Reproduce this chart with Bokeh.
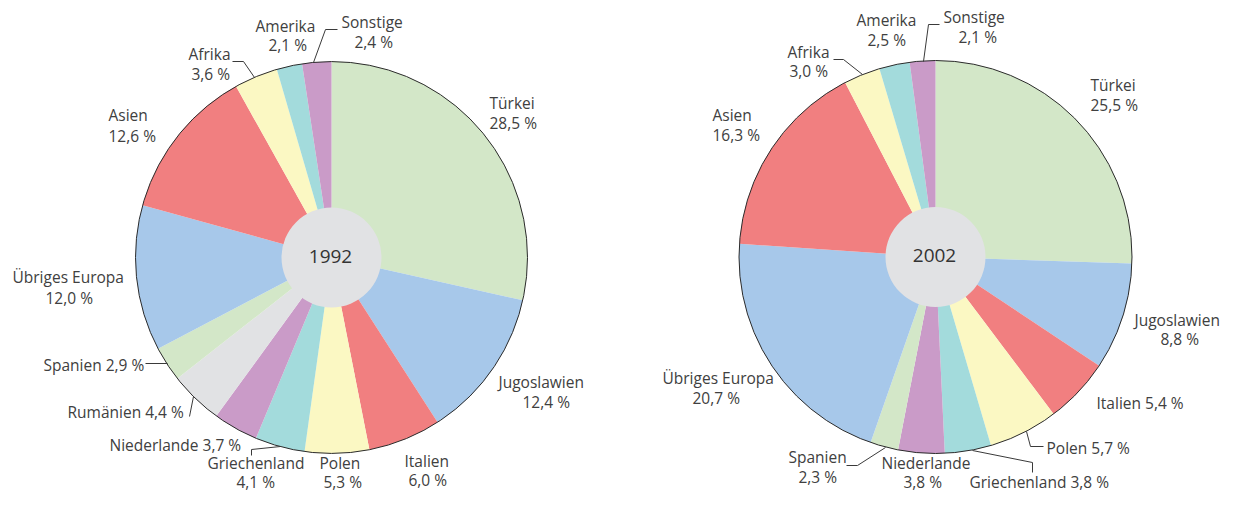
import math
from bokeh.plotting import figure
from bokeh.models import Range1d, ColumnDataSource
from bokeh.core.properties import value
from bokeh.embed import file_html
from bokeh.resources import INLINE

# ---------------- data ----------------
categories_1992 = ["Türkei", "Jugoslawien", "Italien", "Polen", "Griechenland", "Niederlande",
                   "Rumänien", "Spanien", "Übriges Europa", "Asien", "Afrika", "Amerika", "Sonstige"]
values_1992 = [28.5, 12.4, 6.0, 5.3, 4.1, 3.7, 4.4, 2.9, 12.0, 12.6, 3.6, 2.1, 2.4]

categories_2002 = ["Türkei", "Jugoslawien", "Italien", "Polen", "Griechenland", "Niederlande",
                   "Spanien", "Übriges Europa", "Asien", "Afrika", "Amerika", "Sonstige"]
values_2002 = [25.5, 8.8, 5.4, 5.7, 3.8, 3.8, 2.3, 20.7, 16.3, 3.0, 2.5, 2.1]

years = ["1992", "2002"]

# ---------------- styles ----------------
colors = {
    "Türkei": "#d3e7c8", "Jugoslawien": "#a7c8ea", "Italien": "#f17f80", "Polen": "#fbf8c3",
    "Griechenland": "#a3dbdc", "Niederlande": "#ca9bc8", "Rumänien": "#e1e2e4", "Spanien": "#d3e7c8",
    "Übriges Europa": "#a7c8ea", "Asien": "#f17f80", "Afrika": "#fbf8c3", "Amerika": "#a3dbdc",
    "Sonstige": "#ca9bc8",
}
TXT = "#404040"
FONT = "Open Sans"
FS = "15.5px"
BASELINE_SHIFT = 6   # rendered baseline sits this much below the requested one

W, H = 1222, 491

def Y(y_img):
    return H - y_img

# layout: pie centres/radius (picture pixel coordinates)
pies = [
    dict(cx=331, cy=257, r=196, hole=50),
    dict(cx=935, cy=256.5, r=196.5, hole=50),
]

# label layout: per category, list of (x_left, baseline) per line
label_pos = [
    {
        "Türkei": [(489, 108), (489, 128)],
        "Jugoslawien": [(498, 387), (522, 407)],
        "Italien": [(404, 466), (408, 485)],
        "Polen": [(319, 468), (323, 487)],
        "Griechenland": [(207, 468), (236, 487)],
        "Niederlande": [(109, 450)],
        "Rumänien": [(67, 417)],
        "Spanien": [(43, 370)],
        "Übriges Europa": [(12, 282), (45, 303)],
        "Asien": [(108, 120), (108, 141)],
        "Afrika": [(188, 59), (191, 79)],
        "Amerika": [(255, 31), (268, 50)],
        "Sonstige": [(341, 27), (354, 47)],
    },
    {
        "Türkei": [(1090, 90), (1090, 110)],
        "Jugoslawien": [(1134, 325), (1160, 344)],
        "Italien": [(1096, 408)],
        "Polen": [(1046, 453)],
        "Griechenland": [(969, 487)],
        "Niederlande": [(881, 468), (903, 487)],
        "Spanien": [(788, 462), (798, 482)],
        "Übriges Europa": [(662, 383), (692, 403)],
        "Asien": [(712, 120), (712, 140)],
        "Afrika": [(787, 57), (789, 76)],
        "Amerika": [(856, 25), (867, 45)],
        "Sonstige": [(943, 22), (958, 42)],
    },
]

leaders = [
    [
        [(313, 62), (325, 29), (337, 29)],          # Sonstige
        [(232, 61), (243, 61), (254, 77)],          # Afrika
        [(145, 363), (167, 363)],                   # Spanien
        [(193, 396), (189, 416)],                   # Rumänien
        [(280, 446), (251, 449), (251, 455)],       # Griechenland
    ],
    [
        [(923, 61), (928, 24), (939, 24)],          # Sonstige
        [(833, 59), (843, 59), (862, 74)],          # Afrika
        [(846, 465), (857, 465), (885, 447)],       # Spanien
        [(1026, 431), (1030, 446), (1043, 446)],    # Polen
        [(972, 450), (1032, 462), (1032, 472)],     # Griechenland
    ],
]

p = figure(width=W, height=H, output_backend="svg", toolbar_location=None,
           x_range=Range1d(0, W), y_range=Range1d(0, H),
           x_axis_location=None, y_axis_location=None, min_border=0,
           outline_line_color=None, background_fill_color="white", border_fill_color="white")
p.grid.visible = False

def fmt(v):
    return f"{v:.1f} %".replace(".", ",")

for idx, (cats, vals) in enumerate([(categories_1992, values_1992), (categories_2002, values_2002)]):
    pie = pies[idx]
    total = sum(vals)
    starts, ends = [], []
    cum = 0.0
    for v in vals:
        a0 = math.pi / 2 - 2 * math.pi * cum / total
        cum += v
        a1 = math.pi / 2 - 2 * math.pi * cum / total
        starts.append(a1)
        ends.append(a0)
    src = ColumnDataSource(dict(start=starts, end=ends, color=[colors[c] for c in cats]))
    p.wedge(x=pie["cx"], y=Y(pie["cy"]), radius=pie["r"], start_angle="start", end_angle="end",
            direction="anticlock", fill_color="color", line_color=None, source=src)
    # outline
    p.circle(x=pie["cx"], y=Y(pie["cy"]), radius=pie["r"], fill_color=None,
             line_color="#2b2b2b", line_width=1)
    # centre hole
    p.circle(x=pie["cx"], y=Y(pie["cy"]), radius=pie["hole"], fill_color="#e1e2e4",
             line_color=None)
    p.text(x=[pie["cx"] - 1], y=[Y(pie["cy"] - 1.5)], text=[years[idx]], text_align="center",
           text_baseline="middle", text_font=value(FONT), text_font_size="19px",
           text_color="#333333")

    # labels
    xs, ys, ts = [], [], []
    for c, v in zip(cats, vals):
        pos = label_pos[idx][c]
        if len(pos) == 2:
            lines = [c, fmt(v)]
        else:
            lines = [f"{c} {fmt(v)}"]
        for (lx, ly), t in zip(pos, lines):
            xs.append(lx)
            ys.append(Y(ly - BASELINE_SHIFT))
            ts.append(t)
    p.text(x=xs, y=ys, text=ts, text_align="left", text_baseline="alphabetic",
           text_font=value(FONT), text_font_size=FS, text_color=TXT)

    # leader lines
    p.multi_line(xs=[[pt[0] for pt in L] for L in leaders[idx]],
                 ys=[[Y(pt[1]) for pt in L] for L in leaders[idx]],
                 line_color="#3a3a3a", line_width=1)

open("out.html", "w").write(file_html(p, INLINE))
